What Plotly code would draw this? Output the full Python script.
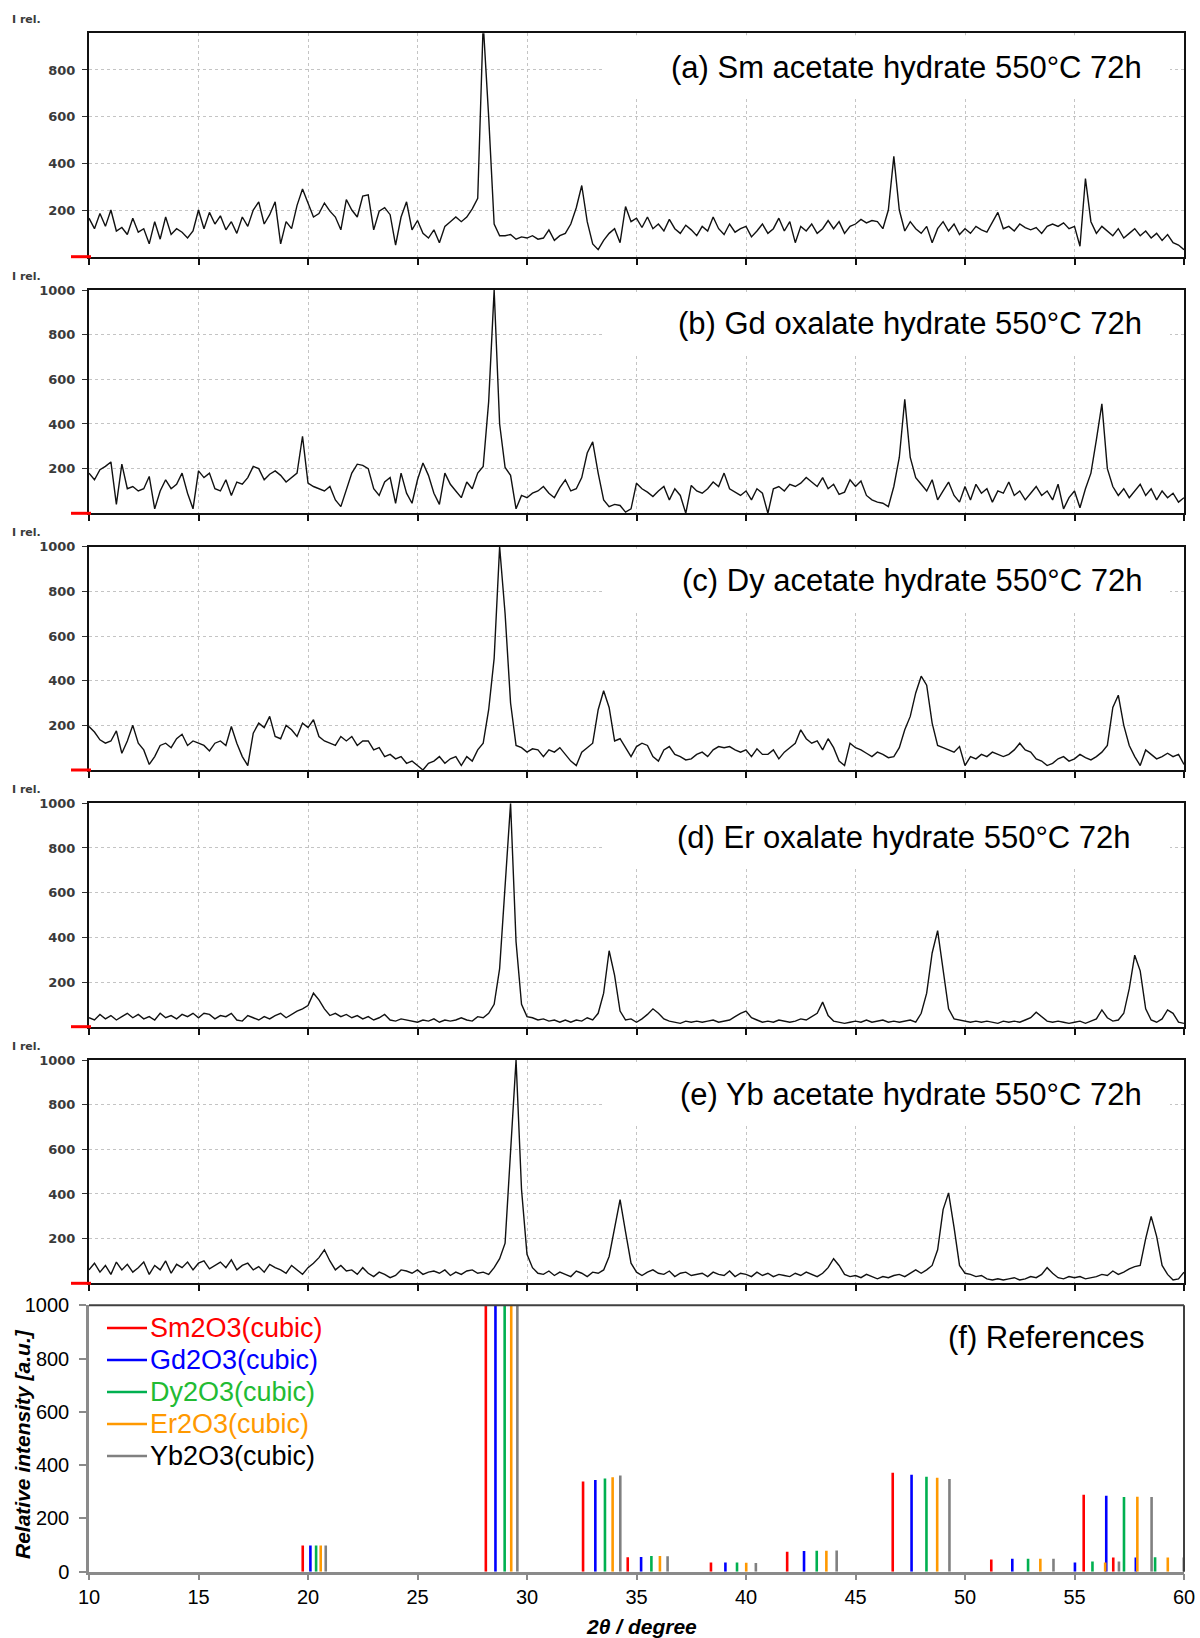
import plotly.graph_objects as go

# ---------------------------------------------------------------------------
# XRD scans: relative intensity on a 0.25 deg 2-theta grid starting at 10 deg
# (one row per degree: x.00, x.25, x.50, x.75)
# ---------------------------------------------------------------------------
TWO_THETA_START = 10.0
TWO_THETA_STEP = 0.25

sm_acetate = [
    165, 120, 185, 130,  200, 110, 125, 95,   165, 105, 120, 55,   150, 75, 170, 95,
    120, 105, 80, 110,   200, 120, 190, 140,  175, 115, 150, 100,  170, 130, 200, 235,
    140, 180, 235, 55,   150, 120, 220, 290,  230, 170, 185, 230,  195, 170, 115, 245,
    200, 170, 260, 265,  115, 195, 210, 180,  50, 170, 235, 115,   155, 100, 80, 115,
    60, 130, 150, 170,   150, 170, 205, 250,  1000, 600, 140, 90,  90, 95, 75, 85,
    80, 90, 75, 80,      115, 70, 90, 100,    140, 210, 305, 150,  55, 30, 70, 100,
    120, 60, 215, 150,   165, 125, 170, 120,  140, 110, 160, 120,  100, 135, 115, 90,
    130, 110, 170, 120,  95, 140, 105, 120,   130, 85, 110, 140,   100, 120, 165, 110,
    150, 60, 130, 110,   140, 100, 120, 155,  120, 150, 100, 130,  140, 160, 145, 155,
    150, 120, 200, 430,  200, 110, 150, 120,  100, 130, 60, 120,   150, 110, 140, 95,
    120, 100, 130, 115,  105, 150, 190, 120,  130, 110, 140, 125,  115, 125, 100, 130,
    140, 130, 145, 120,  130, 45, 335, 150,   100, 130, 110, 90,   120, 80, 100, 120,
    90, 110, 80, 100,    70, 95, 60, 50,
    30,
]

gd_oxalate = [
    180, 150, 195, 210,  230, 40, 220, 110,   120, 100, 110, 165,  20, 100, 150, 110,
    130, 180, 90, 20,    190, 160, 180, 110,  100, 150, 80, 140,   130, 160, 210, 200,
    150, 175, 190, 170,  140, 160, 180, 345,  135, 120, 110, 100,  120, 60, 30, 100,
    180, 220, 215, 200,  110, 80, 140, 160,   45, 180, 90, 45,     150, 225, 170, 90,
    40, 180, 130, 100,   70, 140, 110, 180,   210, 500, 1000, 400, 205, 170, 20, 80,
    70, 90, 100, 120,    90, 70, 115, 150,    100, 110, 160, 270,  320, 180, 60, 30,
    40, 35, 5, 20,       135, 110, 95, 75,    100, 120, 60, 110,   80, 0, 125, 100,
    90, 110, 140, 120,   180, 110, 95, 80,    100, 60, 110, 90,    0, 110, 120, 100,
    130, 120, 135, 160,  140, 120, 160, 110,  130, 85, 95, 150,    120, 145, 80, 60,
    50, 45, 30, 120,     250, 510, 250, 160,  130, 100, 150, 60,   100, 140, 80, 50,
    120, 60, 130, 90,    110, 50, 100, 90,    140, 80, 100, 60,    90, 120, 80, 100,
    60, 130, 20, 70,     100, 25, 110, 180,   330, 490, 200, 120,  80, 110, 70, 100,
    130, 80, 110, 60,    100, 70, 90, 50,
    70,
]

dy_acetate = [
    195, 170, 135, 120,  130, 175, 75, 130,   200, 120, 90, 25,    60, 110, 120, 100,
    140, 160, 110, 130,  120, 110, 85, 120,   130, 110, 195, 120,  60, 20, 165, 210,
    190, 240, 150, 140,  200, 180, 150, 210,  190, 225, 150, 130,  120, 110, 150, 130,
    150, 110, 130, 130,  90, 100, 60, 70,     50, 60, 30, 40,      20, 0, 30, 40,
    60, 30, 50, 60,      20, 60, 40, 90,      120, 270, 500, 1000, 700, 300, 110, 100,
    80, 95, 90, 60,      90, 80, 100, 70,     40, 20, 80, 100,     120, 270, 355, 280,
    130, 140, 100, 60,   105, 120, 110, 60,   40, 90, 105, 70,     60, 45, 50, 70,
    80, 60, 90, 105,     100, 105, 90, 80,    90, 60, 95, 70,      70, 90, 50, 80,
    100, 120, 180, 140,  120, 130, 90, 140,   100, 40, 20, 120,    100, 90, 75, 60,
    80, 70, 55, 60,      100, 180, 240, 345,  420, 380, 210, 110,  100, 90, 80, 105,
    20, 60, 50, 70,      60, 80, 70, 60,      70, 90, 120, 90,     80, 50, 40, 20,
    30, 50, 60, 40,      50, 70, 55, 45,      60, 80, 110, 280,    335, 200, 110, 60,
    20, 90, 70, 50,      60, 75, 60, 70,
    25,
]

er_oxalate = [
    40, 30, 55, 35,      50, 30, 45, 60,      40, 55, 35, 45,      30, 60, 40, 50,
    35, 55, 45, 60,      40, 60, 55, 35,      50, 45, 60, 30,      25, 50, 40, 30,
    45, 35, 50, 60,      40, 55, 70, 80,      95, 150, 120, 80,    50, 60, 45, 55,
    40, 50, 35, 45,      30, 40, 55, 30,      25, 35, 30, 25,      20, 30, 25, 35,
    20, 30, 25, 30,      40, 30, 25, 45,      40, 60, 100, 260,    650, 1000, 380, 100,
    45, 40, 30, 35,      25, 30, 20, 30,      20, 30, 25, 40,      30, 60, 150, 340,
    230, 70, 30, 35,     20, 35, 55, 80,      60, 35, 25, 20,      15, 25, 20, 25,
    20, 25, 30, 20,      25, 30, 45, 60,      70, 40, 30, 20,      25, 20, 30, 25,
    20, 25, 35, 30,      45, 60, 110, 50,     25, 20, 15, 20,      25, 20, 30, 20,
    25, 30, 20, 25,      20, 25, 30, 20,      60, 150, 330, 430,   250, 80, 35, 30,
    25, 20, 25, 20,      25, 20, 15, 25,      20, 25, 20, 30,      40, 65, 45, 25,
    20, 25, 20, 15,      20, 25, 15, 25,      35, 75, 40, 25,      30, 60, 170, 320,
    250, 80, 30, 20,     35, 75, 60, 20,
    15,
]

yb_acetate = [
    60, 90, 50, 80,      40, 95, 60, 85,      50, 70, 95, 40,      80, 60, 100, 45,
    85, 70, 95, 60,      90, 100, 65, 80,     95, 70, 105, 60,     80, 90, 60, 75,
    50, 85, 70, 60,      45, 80, 60, 40,      70, 90, 115, 150,    100, 60, 80, 55,
    60, 40, 70, 45,      30, 50, 40, 25,      35, 60, 55, 45,      60, 40, 50, 55,
    45, 60, 35, 50,      40, 55, 60, 45,      50, 40, 70, 110,     180, 600, 1000, 420,
    130, 70, 45, 40,     55, 35, 50, 40,      30, 55, 45, 30,      50, 45, 60, 120,
    250, 375, 230, 90,   50, 35, 50, 60,      45, 40, 55, 30,      45, 50, 35, 40,
    45, 30, 50, 40,      35, 55, 30, 45,      40, 30, 50, 35,      45, 30, 40, 35,
    30, 45, 35, 50,      40, 30, 45, 70,      110, 80, 40, 30,     35, 25, 40, 30,
    20, 30, 25, 35,      40, 30, 45, 60,      45, 60, 80, 150,     330, 405, 250, 80,
    45, 40, 30, 35,      20, 15, 20, 15,      20, 25, 15, 20,      30, 25, 40, 70,
    45, 25, 20, 30,      25, 30, 20, 25,      30, 40, 35, 55,      40, 50, 65, 75,
    80, 200, 300, 210,   80, 40, 15, 20,
    50,
]

scans = [sm_acetate, gd_oxalate, dy_acetate, er_oxalate, yb_acetate]
scan_titles = [
    "(a) Sm acetate hydrate 550°C 72h",
    "(b) Gd oxalate hydrate 550°C 72h",
    "(c) Dy acetate hydrate 550°C 72h",
    "(d) Er oxalate hydrate 550°C 72h",
    "(e) Yb acetate hydrate 550°C 72h",
]
scan_ymax = [957, 1000, 1000, 1000, 1000]

# ---------------------------------------------------------------------------
# Reference stick patterns of the cubic sesquioxides
# ---------------------------------------------------------------------------
ref_names = ["Sm2O3(cubic)", "Gd2O3(cubic)", "Dy2O3(cubic)", "Er2O3(cubic)", "Yb2O3(cubic)"]
sm2o3_pos = [19.76, 28.12, 32.56, 34.60, 38.40, 41.88, 46.70, 51.20, 55.42, 56.77]
sm2o3_int = [98, 1000, 339, 54, 35, 75, 371, 46, 289, 53]
gd2o3_pos = [20.11, 28.56, 33.12, 35.21, 39.06, 42.65, 47.56, 52.16, 55.02, 56.45, 57.80]
gd2o3_int = [98, 1000, 344, 55, 35, 78, 364, 49, 35, 285, 53]
dy2o3_pos = [20.37, 28.98, 33.56, 35.68, 39.59, 43.23, 48.24, 52.88, 55.82, 57.26, 58.68]
dy2o3_int = [98, 1000, 350, 59, 35, 79, 356, 49, 38, 280, 54]
er2o3_pos = [20.58, 29.28, 33.91, 36.07, 40.01, 43.67, 48.73, 53.44, 56.40, 57.87, 59.26]
er2o3_int = [98, 1000, 355, 59, 34, 79, 353, 49, 35, 281, 53]
yb2o3_pos = [20.81, 29.56, 34.26, 36.42, 40.45, 44.14, 49.29, 54.04, 57.03, 58.52, 59.99]
yb2o3_int = [98, 1000, 361, 58, 33, 80, 348, 49, 38, 280, 53]

ref_positions = [sm2o3_pos, gd2o3_pos, dy2o3_pos, er2o3_pos, yb2o3_pos]
ref_intensities = [sm2o3_int, gd2o3_int, dy2o3_int, er2o3_int, yb2o3_int]
ref_line_colors = ["#ff0000", "#0000ff", "#00b050", "#ff9900", "#808080"]
ref_text_colors = ["#ff0000", "#0000ff", "#22bb33", "#ff9900", "#000000"]

# ---------------------------------------------------------------------------
# Page geometry (pixels)
# ---------------------------------------------------------------------------
W, H = 1200, 1638
PLOT_LEFT, PLOT_RIGHT = 89, 1184
panel_rows = [(33.3, 256.7), (290.0, 513.3), (546.7, 770.0),
              (803.3, 1026.7), (1060.0, 1283.3), (1305.3, 1571.7)]
title_right = [1144, 1144, 1144, 1133, 1144]

SANS = "Liberation Sans, Arial, sans-serif"
LABEL_FONT = dict(family="DejaVu Sans", size=13, color="#3a3a3a", weight="bold")


def px_x(p):
    return p / W


def px_y(p):
    return 1 - p / H


def suffix(k):
    return "" if k == 1 else str(k)


xdom = [px_x(PLOT_LEFT), px_x(PLOT_RIGHT)]
fig = go.Figure()
shapes = []
annotations = []
layout_axes = {}

for k, (values, title, ymax) in enumerate(zip(scans, scan_titles, scan_ymax), start=1):
    s = suffix(k)
    top, bot = panel_rows[k - 1]
    two_theta = [TWO_THETA_START + TWO_THETA_STEP * i for i in range(len(values))]
    fig.add_trace(go.Scatter(
        x=two_theta, y=values, mode="lines",
        line=dict(color="#111111", width=1.4),
        xaxis=f"x{s}", yaxis=f"y{s}", showlegend=False, hoverinfo="skip",
    ))
    ticks_y = [v for v in range(200, 1001, 200) if v <= ymax]
    layout_axes[f"xaxis{s}"] = dict(
        domain=xdom, anchor=f"y{s}", range=[10, 60], automargin=False,
        tickvals=list(range(10, 61, 5)), showticklabels=False,
        ticks="outside", ticklen=6, tickwidth=1.5, tickcolor="#111111",
        showline=True, linecolor="#111111", linewidth=1.6, mirror=True,
        showgrid=True, gridcolor="#c4c4c4", griddash="dot", gridwidth=1,
        zeroline=False,
    )
    layout_axes[f"yaxis{s}"] = dict(
        domain=[px_y(bot), px_y(top)], anchor=f"x{s}", range=[0, ymax],
        automargin=False,
        tickvals=ticks_y, ticks="outside", ticklen=5, tickwidth=1.2,
        tickcolor="#333333", ticklabelstandoff=4, tickfont=LABEL_FONT,
        showline=True, linecolor="#111111", linewidth=2, mirror=True,
        showgrid=True, gridcolor="#c4c4c4", griddash="dot", gridwidth=1,
        zeroline=False,
    )
    # red zero marker at the lower-left corner
    shapes.append(dict(type="line", xref="paper", yref=f"y{s} domain",
                       x0=px_x(71), x1=px_x(91), y0=0, y1=0,
                       line=dict(color="#ff0000", width=3)))
    # white backdrop behind the panel title
    shapes.append(dict(type="rect", xref="paper", yref="paper", layer="above",
                       x0=px_x(603), x1=px_x(1170), y0=px_y(top + 64), y1=px_y(top + 2),
                       fillcolor="white", line=dict(width=0)))
    annotations.append(dict(text=title, xref="paper", yref="paper",
                            x=px_x(title_right[k - 1]), y=px_y(top + 34),
                            xanchor="right", yanchor="middle", showarrow=False,
                            font=dict(family=SANS, size=31, color="#000000")))
    annotations.append(dict(text="I rel.", xref="paper", yref="paper",
                            x=px_x(10), y=px_y(top - 14),
                            xanchor="left", yanchor="middle", showarrow=False,
                            font=dict(family="DejaVu Sans", size=11, color="#3a3a3a",
                                      weight="bold")))

# reference sticks (panel f) with a hand-placed key in the upper-left corner
key_rows = [1328, 1360, 1392, 1424, 1456]
for name, pos, inten, lc, tc, ky in zip(ref_names, ref_positions, ref_intensities,
                                        ref_line_colors, ref_text_colors, key_rows):
    xs, ys = [], []
    for p, h in zip(pos, inten):
        xs += [p, p, None]
        ys += [0, h, None]
    fig.add_trace(go.Scatter(
        x=xs, y=ys, mode="lines", line=dict(color=lc, width=2.6),
        xaxis="x6", yaxis="y6", hoverinfo="skip", name=name, showlegend=False,
    ))
    shapes.append(dict(type="line", xref="paper", yref="paper",
                       x0=px_x(107), x1=px_x(147), y0=px_y(ky), y1=px_y(ky),
                       line=dict(color=lc, width=2.6)))
    annotations.append(dict(text=name, xref="paper", yref="paper",
                            x=px_x(148), y=px_y(ky), xanchor="left", yanchor="middle",
                            showarrow=False,
                            font=dict(family=SANS, size=27, color=tc)))

top6, bot6 = panel_rows[5]
layout_axes["xaxis6"] = dict(
    domain=xdom, anchor="y6", range=[10, 60], tickvals=list(range(10, 61, 5)),
    automargin=False,
    ticks="outside", ticklen=6, tickwidth=2, tickcolor="#8a8a8a",
    ticklabelstandoff=0,
    showline=True, linecolor="#8a8a8a", linewidth=2.5, showgrid=False, zeroline=False,
    tickfont=dict(family=SANS, size=20, color="#000000"),
)
layout_axes["yaxis6"] = dict(
    domain=[px_y(bot6), px_y(top6)], anchor="x6", range=[0, 1000],
    automargin=False,
    tickvals=list(range(0, 1001, 200)), ticks="outside", ticklen=7, tickwidth=2,
    tickcolor="#8a8a8a", ticklabelstandoff=6,
    showline=True, linecolor="#8a8a8a", linewidth=2.5, showgrid=False, zeroline=False,
    tickfont=dict(family=SANS, size=20, color="#000000"),
)
# darker upper and right frame of panel f
shapes.append(dict(type="line", xref="x6 domain", yref="y6 domain",
                   x0=0, x1=1, y0=1, y1=1, line=dict(color="#404040", width=2)))
shapes.append(dict(type="line", xref="x6 domain", yref="y6 domain",
                   x0=1, x1=1, y0=0, y1=1, line=dict(color="#404040", width=2)))

annotations.append(dict(text="(f) References", xref="paper", yref="paper",
                        x=px_x(1146), y=px_y(top6 + 32), xanchor="right",
                        yanchor="middle", showarrow=False,
                        font=dict(family=SANS, size=31, color="#000000")))
annotations.append(dict(text="<b><i>Relative intensity [a.u.]</i></b>",
                        xref="paper", yref="paper", x=px_x(22), y=px_y(1444),
                        xanchor="center", yanchor="middle", textangle=-90,
                        showarrow=False,
                        font=dict(family=SANS, size=21, color="#000000")))
annotations.append(dict(text="<b><i>2θ / degree</i></b>",
                        xref="paper", yref="paper", x=px_x(641), y=px_y(1626),
                        xanchor="center", yanchor="middle", showarrow=False,
                        font=dict(family=SANS, size=21, color="#000000")))

fig.update_layout(
    width=W, height=H,
    margin=dict(l=0, r=0, t=0, b=0, autoexpand=False),
    paper_bgcolor="white", plot_bgcolor="white",
    showlegend=False,
    shapes=shapes, annotations=annotations,
    **layout_axes,
)

fig.write_html("out.html", config={"displayModeBar": False})
